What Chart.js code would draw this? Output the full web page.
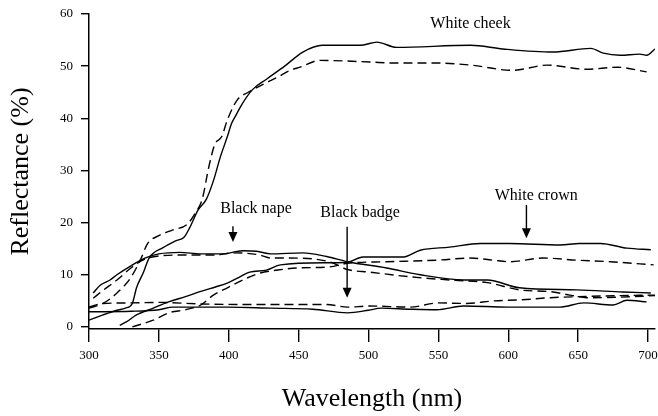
<!DOCTYPE html>
<html>
<head>
<meta charset="utf-8">
<script src="https://cdn.jsdelivr.net/npm/chart.js@4.4.0/dist/chart.umd.min.js"></script>
<style>
  body { margin: 0; background: #fff; }
  #wrap { width: 658px; height: 416px; }
</style>
</head>
<body>
<div id="wrap"><canvas id="specChart" width="658" height="416"></canvas></div>
<script>
var xTicks = [300, 350, 400, 450, 500, 550, 600, 650, 700];
var yTicks = [0, 10, 20, 30, 40, 50, 60];

// white cheek
var cheekSolidWl = [300, 310, 320, 326, 331, 334, 339, 343, 353, 362, 368, 372, 378, 384, 389, 394, 399, 402, 405, 409, 417, 427, 440, 453, 467, 494, 506, 520, 573, 596, 632, 659, 668, 680, 694, 699, 705];
var cheekSolidR = [1.3, 2.3, 3.2, 3.6, 4.5, 7.5, 10.5, 13.2, 15.2, 16.5, 17.2, 19, 22.4, 24.5, 28, 32.6, 36.5, 39, 40.5, 42.5, 45.5, 47.5, 50, 52.7, 54, 54, 54.6, 53.6, 54, 53.3, 52.7, 53.4, 52.5, 52.1, 52.3, 52.1, 53.3];
var cheekDashWl = [300, 310, 320, 330, 337, 342, 350, 360, 370, 376, 381, 386, 390, 395, 399, 406, 414, 426, 435, 444, 451, 465, 501, 518, 549, 573, 603, 628, 656, 678, 699];
var cheekDashR = [3.6, 4.5, 6.5, 9.5, 13, 16, 17.5, 18.6, 19.6, 21.8, 24.5, 31, 35, 36.5, 39.7, 43.5, 45, 46.7, 47.9, 49.2, 49.8, 51.1, 50.8, 50.6, 50.6, 50.2, 49.2, 50.2, 49.4, 49.8, 48.9];

// black nape
var napeSolidWl = [303, 308, 315, 320, 330, 340, 350, 365, 380, 395, 410, 420, 430, 453, 470, 485, 513, 537, 568, 585, 608, 649, 682, 702];
var napeSolidR = [6.5, 8, 9, 10, 11.7, 13.2, 14, 14.3, 14, 14, 14.6, 14.5, 14, 14.2, 13.5, 12.5, 11.3, 10, 9, 9, 7.5, 7.1, 6.7, 6.5];
var napeDashWl = [303, 310, 320, 330, 340, 350, 370, 391, 403, 422, 430, 442, 472, 485, 501, 530, 558, 585, 608, 632, 644, 656, 680, 705];
var napeDashR = [5.5, 7, 9, 11.3, 13, 13.6, 13.8, 13.8, 14.2, 13.8, 13.2, 13.2, 12.5, 11, 10.5, 9.6, 9, 8.5, 7.1, 6.7, 6.1, 5.6, 5.7, 6];

// white crown
var crownSolidWl = [322, 327, 334, 346, 357, 369, 380, 391, 399, 408, 415, 427, 437, 472, 485, 496, 525, 537, 558, 580, 601, 637, 651, 666, 685, 702];
var crownSolidR = [0.3, 1, 2.3, 3.6, 4.8, 5.8, 6.8, 7.7, 8.4, 9.6, 10.5, 10.9, 11.9, 12.3, 12.4, 13.4, 13.4, 14.7, 15.3, 16, 16, 15.7, 16, 16, 15.1, 14.8];
var crownDashWl = [331, 346, 357, 369, 380, 389, 399, 410, 422, 435, 449, 472, 485, 513, 549, 573, 589, 601, 625, 649, 673, 704];
var crownDashR = [0, 1.3, 2.7, 3.3, 4.2, 6.1, 7.5, 9, 10.3, 10.9, 11.3, 11.5, 12.2, 12.5, 12.8, 13.2, 12.8, 12.5, 13.2, 12.8, 12.5, 11.9];

// black badge
var badgeSolidWl = [300, 330, 350, 360, 400, 430, 460, 485, 500, 509, 530, 549, 568, 600, 637, 654, 675, 685, 699];
var badgeSolidR = [2.9, 3, 3.3, 3.8, 3.8, 3.6, 3.4, 2.7, 3.2, 3.6, 3.4, 3.3, 4, 3.8, 3.8, 4.6, 4.2, 5.1, 4.8];
var badgeDashWl = [300, 310, 330, 350, 380, 420, 470, 485, 500, 530, 550, 570, 590, 610, 630, 650, 680, 705];
var badgeDashR = [3.8, 4.5, 4.6, 4.7, 4.4, 4.3, 4.3, 3.8, 4, 3.8, 4.6, 4.5, 5, 5.2, 5.6, 5.8, 6, 6.1];

// labels and arrows, in data units
var labelText = ['White cheek', 'White crown', 'Black nape', 'Black badge'];
var labelWl = [573, 620, 419.5, 494];
var labelR = [58.2, 25.1, 22.6, 21.8];
var arrowWl = [403, 484.7, 613];
var arrowFrom = [19.3, 19.2, 23.4];
var arrowTo = [16.3, 5.6, 17];

function pts(xs, ys) {
    return xs.map(function(x, i) { return {x: x, y: ys[i]}; });
}

function line(label, xs, ys, dashed) {
    return {
        label: label,
        data: pts(xs, ys),
        borderColor: '#000',
        borderWidth: 1.4,
        borderDash: dashed ? [9, 5] : [],
        pointRadius: 0,
        cubicInterpolationMode: 'monotone',
        fill: false
    };
}

var notes = {
    id: 'notes',
    afterDatasetsDraw: function(chart) {
        var ctx = chart.ctx, sx = chart.scales.x, sy = chart.scales.y;
        ctx.save();
        ctx.fillStyle = '#000';
        ctx.strokeStyle = '#000';
        ctx.font = '16px "Liberation Serif", serif';
        ctx.textAlign = 'center';
        ctx.textBaseline = 'middle';
        labelText.forEach(function(t, i) {
            ctx.fillText(t, sx.getPixelForValue(labelWl[i]), sy.getPixelForValue(labelR[i]));
        });
        ctx.lineWidth = 1.4;
        arrowWl.forEach(function(w, i) {
            var x = sx.getPixelForValue(w);
            var y0 = sy.getPixelForValue(arrowFrom[i]);
            var y1 = sy.getPixelForValue(arrowTo[i]);
            ctx.beginPath();
            ctx.moveTo(x, y0);
            ctx.lineTo(x, y1 - 8);
            ctx.stroke();
            ctx.beginPath();
            ctx.moveTo(x - 4.5, y1 - 10);
            ctx.lineTo(x + 4.5, y1 - 10);
            ctx.lineTo(x, y1);
            ctx.closePath();
            ctx.fill();
        });
        ctx.restore();
    }
};

Chart.defaults.font.family = '"Liberation Serif", serif';
Chart.defaults.color = '#000';

var ctx = document.getElementById('specChart').getContext('2d');

new Chart(ctx, {
    type: 'line',
    data: {
        datasets: [
            line('White cheek', cheekSolidWl, cheekSolidR, false),
            line('White cheek (dashed)', cheekDashWl, cheekDashR, true),
            line('Black nape', napeSolidWl, napeSolidR, false),
            line('Black nape (dashed)', napeDashWl, napeDashR, true),
            line('White crown', crownSolidWl, crownSolidR, false),
            line('White crown (dashed)', crownDashWl, crownDashR, true),
            line('Black badge', badgeSolidWl, badgeSolidR, false),
            line('Black badge (dashed)', badgeDashWl, badgeDashR, true)
        ]
    },
    options: {
        responsive: false,
        animation: false,
        layout: { padding: { top: 14, right: 3, left: 0, bottom: 0 } },
        plugins: {
            legend: { display: false },
            tooltip: { enabled: false }
        },
        scales: {
            x: {
                type: 'linear',
                min: 300,
                max: 705,
                afterBuildTicks: function(s) { s.ticks = xTicks.map(function(v) { return {value: v}; }); },
                afterFit: function(s) { s.height = 87; s.paddingLeft = 0; s.paddingRight = 0; },
                grid: { display: true, drawOnChartArea: false, drawTicks: true, tickLength: 13, color: '#000', lineWidth: 1.4 },
                border: { display: true, color: '#000', width: 1.5 },
                ticks: { font: { size: 13 }, padding: 6, maxRotation: 0 },
                title: {
                    display: true,
                    text: 'Wavelength (nm)',
                    font: { size: 26, lineHeight: 1.2 },
                    padding: { top: 0, bottom: 1 }
                }
            },
            y: {
                min: -0.4,
                max: 60,
                afterBuildTicks: function(s) { s.ticks = yTicks.map(function(v) { return {value: v}; }); },
                afterFit: function(s) { s.width = 89; s.paddingTop = 0; s.paddingBottom = 0; },
                grid: { display: true, drawOnChartArea: false, drawTicks: true, tickLength: 8, color: '#000', lineWidth: 1.4 },
                border: { display: true, color: '#000', width: 1.5 },
                ticks: { font: { size: 13 }, padding: 8 },
                title: {
                    display: true,
                    text: 'Reflectance (%)',
                    font: { size: 26, lineHeight: 1.2 },
                    padding: { top: 6, bottom: 0 }
                }
            }
        }
    },
    plugins: [notes]
});
</script>
</body>
</html>
